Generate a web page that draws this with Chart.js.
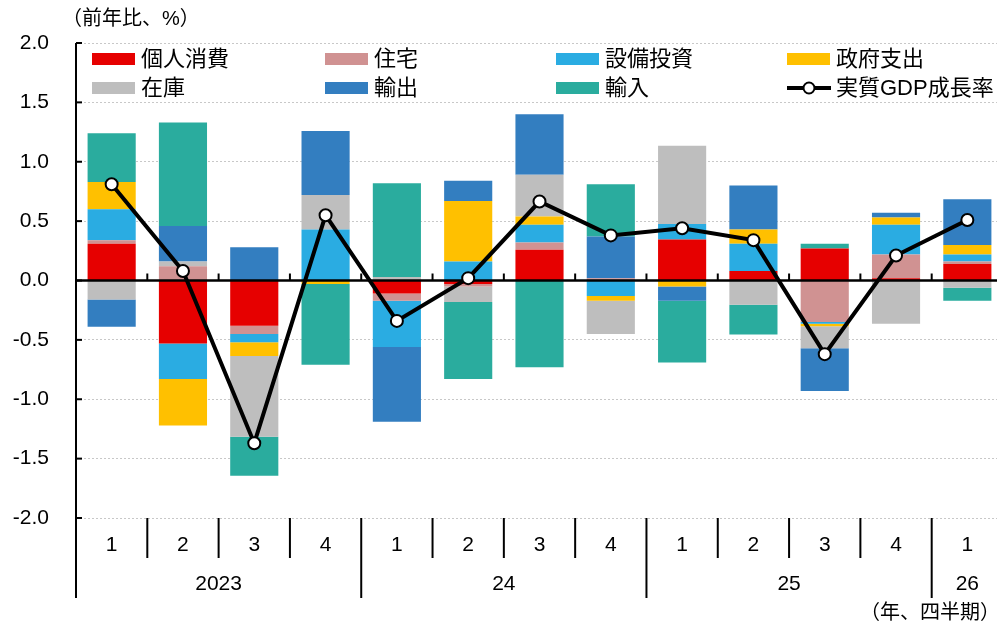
<!DOCTYPE html>
<html>
<head>
<meta charset="utf-8">
<script src="https://cdn.jsdelivr.net/npm/chart.js@4"></script>
<style>
  html, body { margin: 0; padding: 0; background: #fff; overflow: hidden; }
  #wrap { width: 1011px; height: 627px; }
</style>
</head>
<body>
<div id="wrap"><canvas id="chart" width="1011" height="627"></canvas></div>
<script>
// quarters and years
const quarters = ["1", "2", "3", "4", "1", "2", "3", "4", "1", "2", "3", "4", "1"];
const yearLabels = ["2023", "24", "25", "26"];
const yearStart = [0, 4, 8, 12];

// contributions (前年比寄与度, %)
const kojinShohi = [0.31, -0.53, -0.38, 0.00, -0.11, -0.03, 0.26, 0.00, 0.345, 0.08, 0.27, 0.02, 0.14];
const jutaku     = [0.03, 0.12, -0.07, 0.00, -0.06, -0.02, 0.06, 0.02, 0.00, 0.00, -0.35, 0.20, 0.02];
const setsubi    = [0.26, -0.30, -0.07, 0.43, -0.39, 0.16, 0.15, -0.13, 0.13, 0.23, -0.015, 0.25, 0.06];
const seifu      = [0.23, -0.39, -0.115, -0.03, 0.00, 0.51, 0.07, -0.04, -0.05, 0.12, -0.02, 0.06, 0.08];
const zaiko      = [-0.16, 0.04, -0.68, 0.29, 0.03, -0.13, 0.35, -0.28, 0.66, -0.205, -0.185, -0.365, -0.06];
const yushutsu   = [-0.23, 0.30, 0.28, 0.54, -0.63, 0.17, 0.51, 0.35, -0.12, 0.37, -0.36, 0.04, 0.385];
const yunyu      = [0.41, 0.87, -0.33, -0.68, 0.79, -0.65, -0.73, 0.44, -0.52, -0.25, 0.04, 0.00, -0.11];
const gdp        = [0.81, 0.08, -1.37, 0.55, -0.34, 0.02, 0.665, 0.38, 0.44, 0.34, -0.62, 0.21, 0.51];

const yTicks = [-2.0, -1.5, -1.0, -0.5, 0.0, 0.5, 1.0, 1.5, 2.0];

const LATIN = '"Liberation Sans", Arial, "Noto Sans CJK JP", sans-serif';
const JP = '"Liberation Sans", "Noto Sans CJK JP", sans-serif';

const series = [
  { label: "個人消費", data: kojinShohi, color: "#E60000" },
  { label: "住宅", data: jutaku, color: "#D09292" },
  { label: "設備投資", data: setsubi, color: "#2AACE2" },
  { label: "政府支出", data: seifu, color: "#FFC000" },
  { label: "在庫", data: zaiko, color: "#BEBEBE" },
  { label: "輸出", data: yushutsu, color: "#337EC0" },
  { label: "輸入", data: yunyu, color: "#2AAC9E" },
];

const datasets = [
  {
    type: "line",
    label: "実質GDP成長率",
    data: gdp,
    stack: "gdp",
    order: 0,
    borderColor: "#000",
    borderWidth: 4,
    pointRadius: 6,
    pointBackgroundColor: "#fff",
    pointBorderColor: "#000",
    pointBorderWidth: 2,
    tension: 0,
  },
].concat(series.map((s) => ({
  type: "bar",
  label: s.label,
  data: s.data,
  stack: "comp",
  order: 1,
  backgroundColor: s.color,
  borderWidth: 0,
  barPercentage: 0.675,
  categoryPercentage: 1.0,
})));

const extras = {
  id: "extras",
  beforeDatasetDraw(chart, args) {
    if (args.meta.type !== "line") return;
    const ctx = chart.ctx;
    const { left, right } = chart.chartArea;
    const x = chart.scales.x;
    const y0 = chart.scales.y.getPixelForValue(0);
    ctx.save();
    ctx.strokeStyle = "#000";
    ctx.lineWidth = 2.5;
    ctx.beginPath();
    ctx.moveTo(left, y0);
    ctx.lineTo(right, y0);
    ctx.stroke();
    ctx.lineWidth = 2;
    const w = x.getPixelForValue(1) - x.getPixelForValue(0);
    for (let i = 1; i < quarters.length; i++) {
      const bx = x.getPixelForValue(i) - w / 2;
      ctx.beginPath();
      ctx.moveTo(bx, y0);
      ctx.lineTo(bx, y0 - 7);
      ctx.stroke();
    }
    ctx.restore();
  },
  afterDraw(chart) {
    const ctx = chart.ctx;
    const { left, top, bottom } = chart.chartArea;
    const x = chart.scales.x;
    const y = chart.scales.y;
    const w = x.getPixelForValue(1) - x.getPixelForValue(0);
    ctx.save();
    ctx.strokeStyle = "#000";
    ctx.lineWidth = 2;

    // left axis, extended through the label rows
    ctx.beginPath();
    ctx.moveTo(left, top);
    ctx.lineTo(left, bottom + 80);
    ctx.stroke();

    // inward ticks on y axis
    yTicks.forEach((v) => {
      const py = y.getPixelForValue(v);
      ctx.beginPath();
      ctx.moveTo(left, py);
      ctx.lineTo(left + 6, py);
      ctx.stroke();
    });

    // separators under the plot
    for (let i = 1; i < quarters.length; i++) {
      const bx = x.getPixelForValue(i) - w / 2;
      const isYear = yearStart.indexOf(i) >= 0;
      ctx.beginPath();
      ctx.moveTo(bx, bottom);
      ctx.lineTo(bx, bottom + (isYear ? 80 : 40));
      ctx.stroke();
    }

    // year labels
    ctx.fillStyle = "#000";
    ctx.font = "21px " + LATIN;
    ctx.textAlign = "center";
    ctx.textBaseline = "middle";
    yearLabels.forEach((lab, k) => {
      const s = yearStart[k];
      const e = k + 1 < yearStart.length ? yearStart[k + 1] - 1 : quarters.length - 1;
      let cx = (x.getPixelForValue(s) + x.getPixelForValue(e)) / 2;
      ctx.fillText(lab, cx, bottom + 66);
    });

    // axis captions
    ctx.font = "20px " + JP;
    ctx.textAlign = "left";
    ctx.fillText("（前年比、%）", 62, 19);
    ctx.textAlign = "right";
    ctx.fillText("（年、四半期）", 1000, 613);

    // legend
    const colX = [92, 325, 556, 787];
    const rowY = [59, 88];
    ctx.font = "22px " + JP;
    ctx.textAlign = "left";
    series.forEach((s, i) => {
      const cx = colX[i % 4];
      const cy = rowY[Math.floor(i / 4)];
      ctx.fillStyle = s.color;
      ctx.fillRect(cx, cy - 6, 43, 12);
      ctx.fillStyle = "#000";
      ctx.fillText(s.label, cx + 49, cy + 1);
    });
    const gx = colX[3], gy = rowY[1];
    ctx.lineWidth = 4;
    ctx.beginPath();
    ctx.moveTo(gx, gy);
    ctx.lineTo(gx + 44, gy);
    ctx.stroke();
    ctx.beginPath();
    ctx.arc(gx + 22, gy, 5.5, 0, Math.PI * 2);
    ctx.fillStyle = "#fff";
    ctx.fill();
    ctx.lineWidth = 2;
    ctx.stroke();
    ctx.fillStyle = "#000";
    ctx.fillText("実質GDP成長率", gx + 49, gy + 1);
    ctx.restore();
  },
};

new Chart(document.getElementById("chart"), {
  data: {
    labels: quarters,
    datasets: datasets,
  },
  options: {
    responsive: false,
    animation: false,
    layout: {
      padding: { top: 43, right: 0, left: 0, bottom: 0 },
    },
    plugins: {
      legend: { display: false },
      tooltip: { enabled: false },
      title: { display: false },
    },
    scales: {
      x: {
        stacked: true,
        offset: true,
        grid: { display: false, drawTicks: false },
        border: { display: false },
        ticks: {
          color: "#000",
          font: { family: LATIN, size: 21 },
          padding: 15,
          maxRotation: 0,
          autoSkip: false,
        },
        afterFit(scale) {
          scale.height = 109;
        },
      },
      y: {
        stacked: true,
        min: -2,
        max: 2,
        grid: {
          drawTicks: false,
          color: (c) => (c.tick && c.tick.value === 0 ? "rgba(0,0,0,0)" : "#C8C8C8"),
          lineWidth: 1,
        },
        border: { display: false, dash: [2, 2] },
        ticks: {
          stepSize: 0.5,
          color: "#000",
          font: { family: LATIN, size: 21 },
          padding: 27,
          callback: (v) => Number(v).toFixed(1),
        },
        afterFit(scale) {
          scale.width = 76;
        },
      },
    },
  },
  plugins: [extras],
});
</script>
</body>
</html>
